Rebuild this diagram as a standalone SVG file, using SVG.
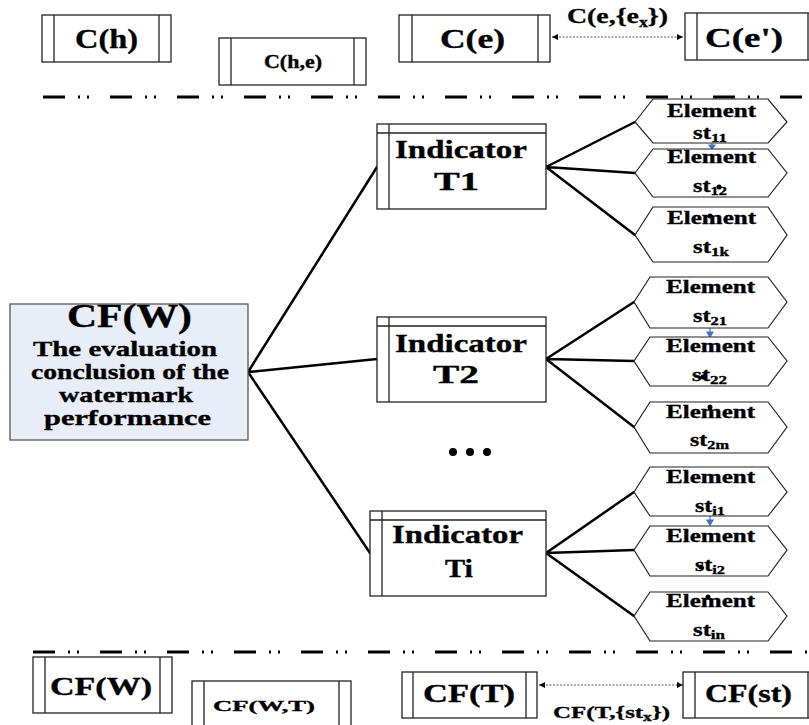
<svg xmlns="http://www.w3.org/2000/svg" width="809" height="725" viewBox="0 0 809 725">
<style>
.box{fill:#fff;stroke:#222;stroke-width:1.3}
.in{stroke:#222;stroke-width:1.3;fill:none}
.hex{fill:#fff;stroke:#222;stroke-width:1.2}
.t{font-family:"Liberation Serif","Times New Roman",serif;font-weight:bold;fill:#000;stroke:#000;stroke-width:0.35}
.conn{stroke:#000;stroke-width:2.5;fill:none;stroke-linecap:round}
.sep{stroke:#000;stroke-width:3;stroke-dasharray:22 13 2 7 2 21;fill:none}
.arr{stroke:#555;stroke-width:1;stroke-dasharray:2 1.5;fill:none}
.blue{stroke:#4472c4;stroke-width:1.2;fill:#4472c4}
</style>
<defs>
<marker id="ah" viewBox="0 0 10 10" refX="10" refY="5" markerWidth="8" markerHeight="6" orient="auto-start-reverse" markerUnits="userSpaceOnUse">
<path d="M0,0 L10,5 L0,10 z" fill="#000"/>
</marker>
</defs>
<rect width="809" height="725" fill="#fff"/>
<path class="sep" d="M43,97 H809"/>
<path class="sep" d="M33,652 H809"/>
<g id="connectors">
<path class="conn" d="M248,372 L377,167 M248,372 L377,359 M248,372 L370,553"/>
<path class="conn" d="M546,167 L635,122 M546,167 L635,173 M546,167 L635,235"/>
<path class="conn" d="M546,359 L634,302 M546,359 L634,361 M546,359 L634,427"/>
<path class="conn" d="M546,553 L634,492 M546,553 L634,550 M546,553 L634,616"/>
<path class="arr" d="M552,37 H683" marker-start="url(#ah)" marker-end="url(#ah)"/>
<path class="arr" d="M539,685 H683" marker-start="url(#ah)" marker-end="url(#ah)"/>
<text class="t" x="567" y="23" font-size="22" textLength="101" lengthAdjust="spacingAndGlyphs">C(e,{e<tspan font-size="14" dy="4">x</tspan><tspan dy="-4">})</tspan></text>
<text class="t" x="553" y="718" font-size="17" textLength="117" lengthAdjust="spacingAndGlyphs">CF(T,{st<tspan font-size="12" dy="3">x</tspan><tspan dy="-3">})</tspan></text>
<path class="blue" d="M712,141 V146"/><path class="blue" d="M709,145 L715,145 L712,149 z"/>
<path class="blue" d="M710,328 V333"/><path class="blue" d="M707,332 L713,332 L710,337 z"/>
<path class="blue" d="M710,516 V521"/><path class="blue" d="M707,520 L713,520 L710,525 z"/>
</g>
<g id="C_h">
<rect class="box" x="42" y="15" width="129" height="47"/>
<path class="in" d="M54,15 V62 M159,15 V62"/>
<text class="t" x="75" y="48" font-size="28" textLength="63" lengthAdjust="spacingAndGlyphs">C(h)</text>
</g>
<g id="C_he">
<rect class="box" x="219" y="38" width="147" height="47"/>
<path class="in" d="M231,38 V85 M354,38 V85"/>
<text class="t" x="264" y="68" font-size="19" textLength="58" lengthAdjust="spacingAndGlyphs">C(h,e)</text>
</g>
<g id="C_e">
<rect class="box" x="399" y="15" width="151" height="47"/>
<path class="in" d="M412,15 V62 M538,15 V62"/>
<text class="t" x="440" y="48" font-size="27" textLength="65" lengthAdjust="spacingAndGlyphs">C(e)</text>
</g>
<g id="C_e2">
<rect class="box" x="685" y="13" width="140" height="47"/>
<path class="in" d="M697,13 V60 M808,13 V60"/>
<text class="t" x="705" y="47" font-size="27" textLength="78" lengthAdjust="spacingAndGlyphs">C(e')</text>
</g>
<g id="CFW_main">
<rect x="10" y="304" width="238" height="136" fill="#e8edf7" stroke="#555" stroke-width="1.3"/>
<text class="t" x="67" y="327" font-size="34" textLength="125" lengthAdjust="spacingAndGlyphs">CF(W)</text>
<text class="t" x="33" y="356" font-size="21" textLength="184" lengthAdjust="spacingAndGlyphs">The evaluation</text>
<text class="t" x="31" y="379" font-size="21" textLength="198" lengthAdjust="spacingAndGlyphs">conclusion of the</text>
<text class="t" x="59" y="402" font-size="21" textLength="134" lengthAdjust="spacingAndGlyphs">watermark</text>
<text class="t" x="44" y="425" font-size="21" textLength="167" lengthAdjust="spacingAndGlyphs">performance</text>
</g>
<g id="T1">
<rect class="box" x="377" y="124" width="169" height="85"/>
<path class="in" d="M389,124 V209 M377,133 H546"/>
<text class="t" x="395" y="158" font-size="26" textLength="132" lengthAdjust="spacingAndGlyphs">Indicator</text>
<text class="t" x="434" y="190" font-size="26" textLength="45" lengthAdjust="spacingAndGlyphs">T1</text>
</g>
<g id="T2">
<rect class="box" x="377" y="317" width="169" height="85"/>
<path class="in" d="M389,317 V402 M377,326 H546"/>
<text class="t" x="395" y="352" font-size="26" textLength="132" lengthAdjust="spacingAndGlyphs">Indicator</text>
<text class="t" x="433" y="383" font-size="26" textLength="46" lengthAdjust="spacingAndGlyphs">T2</text>
</g>
<g id="Ti">
<rect class="box" x="370" y="511" width="176" height="85"/>
<path class="in" d="M382,511 V596 M370,520 H546"/>
<text class="t" x="392" y="543" font-size="26" textLength="131" lengthAdjust="spacingAndGlyphs">Indicator</text>
<text class="t" x="445" y="577" font-size="26" textLength="28" lengthAdjust="spacingAndGlyphs">Ti</text>
</g>
<g id="ellipsis">
<circle cx="453" cy="452" r="4"/><circle cx="470" cy="452" r="4"/><circle cx="487" cy="452" r="4"/>
</g>
<g id="st11">
<polygon class="hex" points="635,122 653,99 768,99 787,122 768,143 653,143"/>
<text class="t" x="667" y="117" font-size="18" textLength="89" lengthAdjust="spacingAndGlyphs">Element</text>
<text class="t" x="693" y="139" font-size="19" textLength="34" lengthAdjust="spacingAndGlyphs">st<tspan font-size="13" dy="3">11</tspan></text>
</g>
<g id="st12">
<polygon class="hex" points="635,173 653,149 768,149 787,173 768,197 653,197"/>
<text class="t" x="667" y="163" font-size="18" textLength="89" lengthAdjust="spacingAndGlyphs">Element</text>
<text class="t" x="693" y="192" font-size="19" textLength="34" lengthAdjust="spacingAndGlyphs">st<tspan font-size="13" dy="3">12</tspan></text>
<circle cx="719" cy="187" r="2.5"/>
</g>
<g id="st1k">
<polygon class="hex" points="635,235 653,207 768,207 787,235 768,262 653,262"/>
<text class="t" x="667" y="224" font-size="18" textLength="89" lengthAdjust="spacingAndGlyphs">Element</text>
<text class="t" x="693" y="253" font-size="19" textLength="36" lengthAdjust="spacingAndGlyphs">st<tspan font-size="13" dy="3">1k</tspan></text>
<circle cx="710" cy="216" r="2.5"/>
</g>
<g id="st21">
<polygon class="hex" points="634,302 650,277 768,277 787,302 768,328 650,328"/>
<text class="t" x="666" y="293" font-size="18" textLength="89" lengthAdjust="spacingAndGlyphs">Element</text>
<text class="t" x="693" y="322" font-size="19" textLength="34" lengthAdjust="spacingAndGlyphs">st<tspan font-size="13" dy="3">21</tspan></text>
</g>
<g id="st22">
<polygon class="hex" points="634,361 650,337 768,337 787,361 768,386 650,386"/>
<text class="t" x="666" y="352" font-size="18" textLength="89" lengthAdjust="spacingAndGlyphs">Element</text>
<text class="t" x="692" y="381" font-size="19" textLength="35" lengthAdjust="spacingAndGlyphs">st<tspan font-size="13" dy="3">22</tspan></text>
<circle cx="703" cy="377" r="2.5"/>
</g>
<g id="st2m">
<polygon class="hex" points="634,427 650,402 768,402 787,427 768,453 650,453"/>
<text class="t" x="666" y="418" font-size="18" textLength="89" lengthAdjust="spacingAndGlyphs">Element</text>
<text class="t" x="690" y="446" font-size="19" textLength="39" lengthAdjust="spacingAndGlyphs">st<tspan font-size="13" dy="3">2m</tspan></text>
<circle cx="710" cy="407" r="2.5"/>
</g>
<g id="sti1">
<polygon class="hex" points="634,492 650,467 768,467 787,492 768,516 650,516"/>
<text class="t" x="666" y="483" font-size="18" textLength="89" lengthAdjust="spacingAndGlyphs">Element</text>
<text class="t" x="695" y="512" font-size="19" textLength="30" lengthAdjust="spacingAndGlyphs">st<tspan font-size="13" dy="3">i1</tspan></text>
</g>
<g id="sti2">
<polygon class="hex" points="634,550 650,526 768,526 787,550 768,576 650,576"/>
<text class="t" x="666" y="542" font-size="18" textLength="89" lengthAdjust="spacingAndGlyphs">Element</text>
<text class="t" x="695" y="571" font-size="19" textLength="30" lengthAdjust="spacingAndGlyphs">st<tspan font-size="13" dy="3">i2</tspan></text>
<circle cx="701" cy="567" r="2.5"/>
</g>
<g id="stin">
<polygon class="hex" points="634,616 650,592 768,592 787,616 768,641 650,641"/>
<text class="t" x="666" y="607" font-size="18" textLength="89" lengthAdjust="spacingAndGlyphs">Element</text>
<text class="t" x="693" y="636" font-size="19" textLength="32" lengthAdjust="spacingAndGlyphs">st<tspan font-size="13" dy="3">in</tspan></text>
<circle cx="708" cy="597" r="2.5"/>
</g>
<g id="CFW_small">
<rect class="box" x="33" y="657" width="139" height="56"/>
<path class="in" d="M45,657 V713 M160,657 V713"/>
<text class="t" x="50" y="695" font-size="25" textLength="102" lengthAdjust="spacingAndGlyphs">CF(W)</text>
</g>
<g id="CFWT">
<rect class="box" x="192" y="681" width="159" height="60"/>
<path class="in" d="M204,681 V741 M339,681 V741"/>
<text class="t" x="213" y="711" font-size="15" textLength="102" lengthAdjust="spacingAndGlyphs">CF(W,T)</text>
</g>
<g id="CFT">
<rect class="box" x="402" y="672" width="135" height="46"/>
<path class="in" d="M413,672 V718 M526,672 V718"/>
<text class="t" x="423" y="702" font-size="25" textLength="92" lengthAdjust="spacingAndGlyphs">CF(T)</text>
</g>
<g id="CFst">
<rect class="box" x="683" y="672" width="140" height="46"/>
<path class="in" d="M695,672 V718 M808,672 V718"/>
<text class="t" x="705" y="702" font-size="25" textLength="87" lengthAdjust="spacingAndGlyphs">CF(st)</text>
</g>
</svg>
